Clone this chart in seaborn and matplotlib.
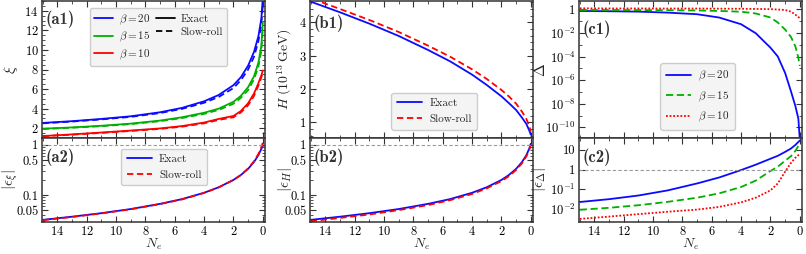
import numpy as np
import pandas as pd
import matplotlib
matplotlib.use('Agg')
import matplotlib.pyplot as plt
import seaborn as sns
from matplotlib.lines import Line2D
from matplotlib.ticker import FixedLocator, FuncFormatter, NullFormatter, LogLocator

# ------------------------------------------------------------
# data
# ------------------------------------------------------------
Ne = [15, 13, 11, 9, 7, 5.5, 4, 3, 2, 1.5, 1, 0.6, 0.3, 0.1, 0]

xi_b20_exact = [2.54, 2.72, 2.95, 3.22, 3.63, 4.08, 4.75, 5.4, 6.4, 7.2, 8.4, 9.8, 11.4, 13.2, 15.3]
xi_b20_sr = [2.50, 2.68, 2.90, 3.16, 3.55, 3.98, 4.60, 5.2, 6.1, 6.9, 8.0, 9.3, 10.9, 12.6, 14.6]
xi_b15_exact = [1.95, 2.08, 2.25, 2.47, 2.78, 3.12, 3.58, 4.0, 4.7, 5.3, 6.2, 7.3, 8.7, 10.4, 12.8]
xi_b15_sr = [1.92, 2.05, 2.21, 2.42, 2.72, 3.04, 3.47, 3.87, 4.5, 5.1, 5.9, 7.0, 8.3, 9.9, 12.2]
xi_b10_exact = [1.20, 1.37, 1.56, 1.76, 1.98, 2.22, 2.58, 2.95, 3.25, 3.75, 4.55, 5.55, 6.6, 7.4, 7.9]
xi_b10_sr = [1.18, 1.34, 1.52, 1.72, 1.93, 2.16, 2.50, 2.85, 3.12, 3.6, 4.35, 5.3, 6.35, 7.2, 7.7]

eps_xi_exact = [0.032, 0.037, 0.0435, 0.0526, 0.0667, 0.083, 0.111, 0.143, 0.2, 0.25, 0.333, 0.455, 0.625, 0.83, 0.95]
eps_xi_sr = [0.0315, 0.0365, 0.043, 0.052, 0.066, 0.082, 0.110, 0.142, 0.2, 0.25, 0.34, 0.47, 0.66, 0.9, 1.1]

H_exact = [4.62, 4.30, 3.96, 3.59, 3.17, 2.83, 2.43, 2.12, 1.78, 1.58, 1.37, 1.14, 0.95, 0.75, 0.63]
H_sr = [4.72, 4.40, 4.07, 3.71, 3.30, 2.97, 2.59, 2.30, 1.97, 1.78, 1.56, 1.32, 1.10, 0.88, 0.72]

eps_H_exact = [0.032, 0.037, 0.0435, 0.0526, 0.0667, 0.083, 0.111, 0.143, 0.2, 0.25, 0.333, 0.455, 0.625, 0.85, 1.05]
eps_H_sr = [0.030, 0.035, 0.041, 0.050, 0.063, 0.079, 0.105, 0.136, 0.19, 0.237, 0.316, 0.43, 0.59, 0.8, 1.0]

delta_b20 = [0.72, 0.68, 0.63, 0.52, 0.38, 0.2, 5.4e-2, 9.3e-3, 5.6e-4, 1e-4, 4e-6, 1.1e-7, 6.3e-9, 5.6e-10, 1e-11]
delta_b15 = [0.87, 0.87, 0.85, 0.83, 0.79, 0.72, 0.62, 0.44, 0.2, 7.6e-2, 1.9e-2, 4.5e-3, 7.1e-4, 7.9e-5, 1.6e-5]
delta_b10 = [1.2, 1.17, 1.17, 1.15, 1.15, 1.12, 1.1, 1.07, 1.02, 0.95, 0.87, 0.63, 0.35, 0.22, 0.18]

eps_delta_b20 = [0.023, 0.032, 0.049, 0.089, 0.2, 0.4, 0.95, 1.78, 3.55, 5.0, 7.9, 11.7, 17.8, 25, 29.5]
eps_delta_b15 = [9.3e-3, 0.0117, 0.0158, 0.0234, 0.038, 0.063, 0.132, 0.28, 0.85, 1.41, 2.82, 4.8, 8.9, 15.8, 22.4]
eps_delta_b10 = [3.2e-3, 4.2e-3, 5.6e-3, 7.4e-3, 9.5e-3, 0.013, 0.022, 0.038, 0.089, 0.2, 0.79, 2.2, 4.0, 5.4, 6.3]

betas = [r'$\beta = 20$', r'$\beta = 15$', r'$\beta = 10$']
colors = ['#0a0aff', '#00b000', '#ff0000']

# ------------------------------------------------------------
# style
# ------------------------------------------------------------
sns.set_theme(style='ticks')
plt.rcParams['font.family'] = ['cmr10', 'DejaVu Serif']
plt.rcParams['mathtext.fontset'] = 'cm'
plt.rcParams['axes.formatter.use_mathtext'] = True
plt.rcParams['axes.edgecolor'] = '#333333'
plt.rcParams['axes.linewidth'] = 1.1
plt.rcParams['xtick.direction'] = 'in'
plt.rcParams['ytick.direction'] = 'in'
plt.rcParams['xtick.top'] = True
plt.rcParams['ytick.right'] = True
plt.rcParams['xtick.color'] = '#333333'
plt.rcParams['ytick.color'] = '#333333'
plt.rcParams['xtick.labelcolor'] = 'black'
plt.rcParams['ytick.labelcolor'] = 'black'
plt.rcParams['legend.fontsize'] = 8

fig = plt.figure(figsize=(8.06, 2.54), dpi=100)
W, Hh = 806, 254
lefts = [42, 310, 579]
aw = 223


def add(left, top, height):
    return fig.add_axes([left / W, (Hh - top - height) / Hh, aw / W, height / Hh])


axes_top = [add(l, 1, 137) for l in lefts]
axes_bot = [add(l, 138, 84) for l in lefts]


def line(ax, y, color, ls='-', lw=1.3):
    df = pd.DataFrame({'Ne': Ne, 'y': y})
    sns.lineplot(data=df, x='Ne', y='y', ax=ax, color=color, linestyle=ls,
                 linewidth=lw, estimator=None, sort=False, legend=False)


def xsetup(ax, labels):
    ax.set_xlim(15.05, -0.15)
    ax.xaxis.set_major_locator(FixedLocator([14, 12, 10, 8, 6, 4, 2, 0]))
    ax.xaxis.set_minor_locator(FixedLocator([15, 13, 11, 9, 7, 5, 3, 1]))
    ax.tick_params(which='major', length=4, width=0.8, labelsize=9, pad=2.5)
    ax.tick_params(which='minor', length=2, width=0.6)
    if labels:
        ax.set_xlabel(r'$N_e$', fontsize=10, labelpad=-1)
    else:
        ax.set_xlabel('')
        ax.xaxis.set_major_formatter(NullFormatter())


def plain_log(v, pos):
    e = int(round(np.log10(v)))
    if e == 0:
        return '1'
    if e == 1:
        return '10'
    return r'$10^{%d}$' % e


def panel_label(ax, s, x=0.015, y=0.93):
    ax.text(x, y, s, transform=ax.transAxes, fontsize=12, fontweight='bold',
            family=['cmb10', 'DejaVu Serif'], va='top', ha='left', color='#333333')


def leg_kw():
    return dict(facecolor='#f4f4f4', edgecolor='#cccccc', framealpha=1,
                fancybox=True, handlelength=2.3, labelspacing=0.55,
                borderpad=0.5, handletextpad=0.6)


# (a1) xi
ax = axes_top[0]
for ex, sr, c in zip([xi_b20_exact, xi_b15_exact, xi_b10_exact],
                     [xi_b20_sr, xi_b15_sr, xi_b10_sr], colors):
    line(ax, ex, c)
    line(ax, sr, c, ls=(0, (3.5, 2)))
ax.set_ylim(1, 15)
ax.yaxis.set_major_locator(FixedLocator([2, 4, 6, 8, 10, 12, 14]))
ax.yaxis.set_minor_locator(FixedLocator(np.arange(1, 15.1, 0.5)))
ax.set_ylabel(r'$\xi$', fontsize=11)
xsetup(ax, False)
handles = [Line2D([], [], color=c, lw=1.3) for c in colors]
handles += [Line2D([], [], color='black', lw=1.3),
            Line2D([], [], color='black', lw=1.3, ls=(0, (3.5, 2)))]
kw = leg_kw()
kw.update(handlelength=1.7, labelspacing=0.3, borderpad=0.4, handletextpad=0.5)
ax.legend(handles, betas + ['Exact', 'Slow-roll'], ncol=2, loc='upper left',
          bbox_to_anchor=(0.19, 0.99), columnspacing=0.5, **kw)
panel_label(ax, '(a1)')

# (a2) eps_xi
ax = axes_bot[0]
line(ax, eps_xi_exact, colors[0])
line(ax, eps_xi_sr, colors[2], ls=(0, (3.5, 2)))
ax.axhline(1, color='#999999', lw=0.8, ls=(0, (3, 2)))
ax.set_yscale('log')
ax.set_ylim(0.029, 1.37)
ax.yaxis.set_major_locator(FixedLocator([0.05, 0.1, 0.5, 1]))
ax.yaxis.set_major_formatter(FuncFormatter(lambda v, p: '%g' % v))
ax.yaxis.set_minor_locator(LogLocator(subs=np.arange(2, 10)))
ax.yaxis.set_minor_formatter(NullFormatter())
ax.set_ylabel(r'$|\epsilon_\xi|$', fontsize=11)
xsetup(ax, True)
ax.legend([Line2D([], [], color=colors[0], lw=1.3),
           Line2D([], [], color=colors[2], lw=1.3, ls=(0, (3.5, 2)))],
          ['Exact', 'Slow-roll'], loc='upper left', bbox_to_anchor=(0.33, 0.94),
          **leg_kw())
panel_label(ax, '(a2)', y=0.88)

# (b1) H
ax = axes_top[1]
line(ax, H_exact, colors[0])
line(ax, H_sr, colors[2], ls=(0, (3.5, 2)))
ax.set_ylim(0.53, 4.64)
ax.yaxis.set_major_locator(FixedLocator([1, 2, 3, 4]))
ax.yaxis.set_minor_locator(FixedLocator(np.arange(0.6, 4.7, 0.2)))
ax.set_ylabel(r'$H\ (10^{13}\,\mathrm{GeV})$', fontsize=10)
xsetup(ax, False)
ax.legend([Line2D([], [], color=colors[0], lw=1.3),
           Line2D([], [], color=colors[2], lw=1.3, ls=(0, (3.5, 2)))],
          ['Exact', 'Slow-roll'], loc='lower left', bbox_to_anchor=(0.34, 0.02),
          **leg_kw())
panel_label(ax, '(b1)', y=0.9)

# (b2) eps_H
ax = axes_bot[1]
line(ax, eps_H_exact, colors[0])
line(ax, eps_H_sr, colors[2], ls=(0, (3.5, 2)))
ax.axhline(1, color='#999999', lw=0.8, ls=(0, (3, 2)))
ax.set_yscale('log')
ax.set_ylim(0.029, 1.37)
ax.yaxis.set_major_locator(FixedLocator([0.05, 0.1, 0.5, 1]))
ax.yaxis.set_major_formatter(FuncFormatter(lambda v, p: '%g' % v))
ax.yaxis.set_minor_locator(LogLocator(subs=np.arange(2, 10)))
ax.yaxis.set_minor_formatter(NullFormatter())
ax.set_ylabel(r'$|\epsilon_H|$', fontsize=11)
xsetup(ax, True)
panel_label(ax, '(b2)', y=0.88)

# (c1) Delta
ax = axes_top[2]
styles = ['-', (0, (4, 2)), (0, (1, 1))]
for d, c, s in zip([delta_b20, delta_b15, delta_b10], colors, styles):
    line(ax, d, c, ls=s)
ax.set_yscale('log')
ax.set_ylim(10 ** -10.9, 10 ** 0.7)
ax.yaxis.set_major_locator(FixedLocator([1e-10, 1e-8, 1e-6, 1e-4, 1e-2, 1]))
ax.yaxis.set_major_formatter(FuncFormatter(plain_log))
ax.yaxis.set_minor_locator(FixedLocator([10.0 ** k for k in range(-11, 1, 2)]))
ax.yaxis.set_minor_formatter(NullFormatter())
ax.set_ylabel(r'$\Delta$', fontsize=11)
xsetup(ax, False)
ax.legend([Line2D([], [], color=c, lw=1.3, ls=s) for c, s in zip(colors, styles)],
          betas, loc='lower left', bbox_to_anchor=(0.34, 0.02), **leg_kw())
panel_label(ax, '(c1)', y=0.86)

# (c2) eps_Delta
ax = axes_bot[2]
for d, c, s in zip([eps_delta_b20, eps_delta_b15, eps_delta_b10], colors, styles):
    line(ax, d, c, ls=s)
ax.axhline(1, color='#999999', lw=0.8, ls=(0, (3, 2)))
ax.set_yscale('log')
ax.set_ylim(10 ** -2.65, 10 ** 1.6)
ax.yaxis.set_major_locator(FixedLocator([1e-2, 1e-1, 1, 10]))
ax.yaxis.set_major_formatter(FuncFormatter(plain_log))
ax.yaxis.set_minor_locator(LogLocator(subs=np.arange(2, 10)))
ax.yaxis.set_minor_formatter(NullFormatter())
ax.set_ylabel(r'$|\epsilon_\Delta|$', fontsize=11)
xsetup(ax, True)
panel_label(ax, '(c2)', y=0.88)

label_x = [-0.1, -0.07, -0.14]
for i in range(3):
    axes_top[i].yaxis.set_label_coords(label_x[i], 0.5)
    axes_bot[i].yaxis.set_label_coords(label_x[i], 0.5)

fig.savefig('out.png', dpi=100)
